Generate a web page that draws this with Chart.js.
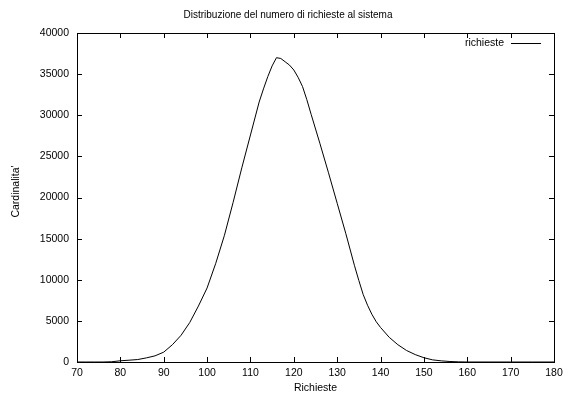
<!DOCTYPE html>
<html>
<head>
<meta charset="utf-8">
<script src="https://cdn.jsdelivr.net/npm/chart.js@4"></script>
<style>
html,body{margin:0;padding:0;background:#fff;}
#wrap{width:572px;height:394px;}
</style>
</head>
<body>
<div id="wrap"><canvas id="c" width="572" height="394"></canvas></div>
<script>
const chartTitle = "Distribuzione del numero di richieste al sistema";
const xTitle = "Richieste";
const yTitle = "Cardinalita'";
const seriesName = "richieste";
const richieste = [70,72,74,76,78,80,82,84,86,88,90,92,94,96,98,100,102,104,106,108,110,112,113,114,115,116,117,118,119,120,121,122,123,124,126,128,130,132,134,135,136,137,138,139,140,142,144,146,148,150,152,154,156,158,160,165,170,175,180];
const cardinalita = [0,0,0,0,30,150,220,300,500,750,1200,2100,3250,4800,6800,9000,12000,15400,19400,23600,27600,31600,33200,34700,36000,37000,36900,36500,36100,35500,34600,33500,31900,30100,26600,23000,19300,15600,11700,9900,8200,6900,5800,4900,4200,3000,2100,1400,900,520,260,140,60,20,0,0,0,0,0];
const xTicks = [70,80,90,100,110,120,130,140,150,160,170,180];
const yTicks = [0,5000,10000,15000,20000,25000,30000,35000,40000];

const FONT = "'Liberation Sans', Arial, Helvetica, sans-serif";

const framePlugin = {
  id: 'frame',
  afterDatasetsDraw(chart) {
    const ctx = chart.ctx, a = chart.chartArea;
    const xs = chart.scales.x, ys = chart.scales.y;
    const L = 5;
    ctx.save();
    ctx.strokeStyle = '#000';
    ctx.lineWidth = 1;
    ctx.beginPath();
    xTicks.forEach(v => {
      const px = Math.round(xs.getPixelForValue(v)) + 0.5;
      ctx.moveTo(px, a.bottom); ctx.lineTo(px, a.bottom - L);
      ctx.moveTo(px, a.top); ctx.lineTo(px, a.top + L);
    });
    yTicks.forEach(v => {
      const py = Math.round(ys.getPixelForValue(v)) + 0.5;
      ctx.moveTo(a.left, py); ctx.lineTo(a.left + L, py);
      ctx.moveTo(a.right, py); ctx.lineTo(a.right - L, py);
    });
    ctx.stroke();
    ctx.strokeRect(Math.round(a.left) + 0.5, Math.round(a.top) + 0.5, Math.round(a.right - a.left), Math.round(a.bottom - a.top));
    ctx.fillStyle = '#000';
    // title
    ctx.font = "10px " + FONT;
    ctx.textAlign = 'center';
    ctx.textBaseline = 'middle';
    ctx.fillText(chartTitle, 288, 15);
    // legend
    ctx.font = "10.5px " + FONT;
    ctx.textAlign = 'right';
    ctx.fillText(chart.data.datasets[0].label, a.right - 50, a.top + 10);
    ctx.beginPath();
    ctx.moveTo(a.right - 43, a.top + 10.5);
    ctx.lineTo(a.right - 13, a.top + 10.5);
    ctx.stroke();
    // y title
    ctx.save();
    ctx.translate(16, (a.top + a.bottom) / 2 - 6);
    ctx.rotate(-Math.PI / 2);
    ctx.textAlign = 'center';
    ctx.fillText(yTitle, 0, 0);
    ctx.restore();
    ctx.restore();
  }
};

new Chart(document.getElementById('c'), {
  type: 'line',
  data: {
    datasets: [{
      label: seriesName,
      data: richieste.map((x, i) => ({x: x, y: cardinalita[i]})),
      borderColor: '#000',
      borderWidth: 1,
      pointRadius: 0,
      tension: 0,
      fill: false
    }]
  },
  options: {
    responsive: false,
    animation: false,
    layout: { padding: { left: 0, right: 18, top: 33, bottom: 0 } },
    plugins: {
      legend: { display: false },
      tooltip: { enabled: false },
      title: { display: false }
    },
    scales: {
      x: {
        type: 'linear',
        min: 70, max: 180,
        afterBuildTicks: s => { s.ticks = xTicks.map(v => ({value: v})); },
        afterFit: s => { s.height = 32; },
        grid: { display: false, drawTicks: false },
        border: { display: false },
        ticks: { color: '#000', padding: 5, maxRotation: 0, font: { family: FONT, size: 10.5 } },
        title: { display: true, text: xTitle, color: '#000', padding: { top: 1, bottom: 0 }, font: { family: FONT, size: 10.5 } }
      },
      y: {
        type: 'linear',
        min: 0, max: 40000,
        afterBuildTicks: s => { s.ticks = yTicks.map(v => ({value: v})); },
        afterFit: s => { s.width = 77; },
        grid: { display: false, drawTicks: false },
        border: { display: false },
        ticks: { color: '#000', padding: 8, font: { family: FONT, size: 10.5 }, callback: v => String(v) }
      }
    }
  },
  plugins: [framePlugin]
});
</script>
</body>
</html>
